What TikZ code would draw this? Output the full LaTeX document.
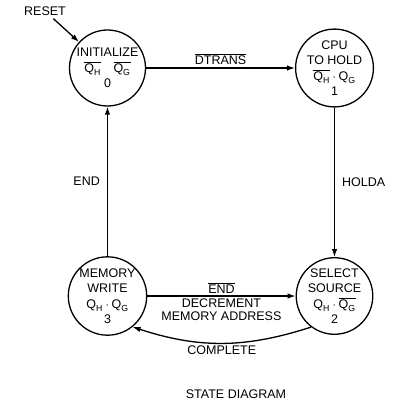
\documentclass[tikz,border=0pt]{standalone}
\usepackage{amsmath}
\usepackage{fontspec}
\setmainfont{Liberation Sans}
\usetikzlibrary{arrows.meta}

\begin{document}
\begin{tikzpicture}[x=1pt,y=-1pt,>={Latex[length=8pt,width=5.5pt]}]
  \tikzstyle{state}=[circle,draw,line width=1.3pt,minimum size=76pt,inner sep=0pt,align=center,font=\fontsize{12.5}{15}\selectfont]
  \tikzstyle{lab}=[font=\fontsize{12.5}{13.5}\selectfont,align=center,inner sep=3pt]
  \tikzstyle{link}=[->,draw,line width=1.3pt]
  \useasboundingbox (0,0) rectangle (414,406);
  \node [lab] (reset) at (45,11) {RESET} ;
  \node [state] (init) at (107.5,68) {INITIALIZE\\[1pt] $\overline{\text{Q}_\text{H}}\quad\overline{\text{Q}_\text{G}}$\\ 0} ;
  \node [state] (cpu) at (334.5,68) {CPU\\ TO HOLD\\[1pt] $\overline{\text{Q}_\text{H}}\cdot\text{Q}_\text{G}$\\ 1} ;
  \node [state] (select) at (334.5,296) {SELECT\\ SOURCE\\[1pt] $\text{Q}_\text{H}\cdot\overline{\text{Q}_\text{G}}$\\ 2} ;
  \node [state] (memory) at (107.5,296) {MEMORY\\ WRITE\\[1pt] $\text{Q}_\text{H}\cdot\text{Q}_\text{G}$\\ 3} ;
  \node [lab] (title) at (236,394) {STATE DIAGRAM} ;
  \path [link] (reset) edge (init) ;
  \path [link] (init) edge node[lab,above] {$\overline{\text{DTRANS}}$} (cpu) ;
  \path [link] (cpu) edge node[lab,right,inner sep=7pt] {HOLDA} (select) ;
  \path [link] (memory) edge node[lab,above,inner sep=2pt] {$\overline{\text{END}}$}
    node[lab,below,inner sep=2pt] {DECREMENT\\ MEMORY ADDRESS} (select) ;
  \path [link] (select.233) to[bend left=18] node[lab,below,inner sep=2pt] {COMPLETE} (memory.309) ;
  \path [link] (memory) edge node[lab,left,inner sep=7pt] {END} (init) ;
\end{tikzpicture}
\end{document}
